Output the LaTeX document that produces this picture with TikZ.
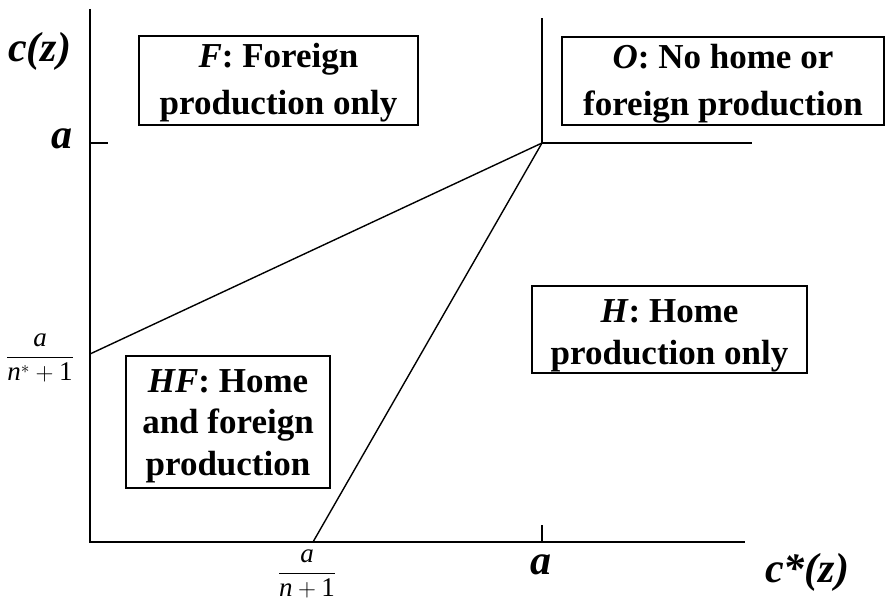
\documentclass[tikz,border=0pt]{standalone}
\usepackage{fontspec}
\setmainfont{Liberation Serif}
\begin{document}
\begin{tikzpicture}[x=1pt,y=-1pt,
  axisline/.style={line width=2pt},
  boundary/.style={line width=1.4pt},
  regionbox/.style={draw,line width=1.4pt,inner sep=0pt},
  boxtext/.style={align=center,inner sep=0pt,font=\fontsize{35}{42}\selectfont\bfseries},
  axislabel/.style={anchor=base,inner sep=0pt,font=\fontsize{42}{48}\selectfont\bfseries\itshape},
  fraclabel/.style={inner sep=0pt,font=\fontsize{27}{30}\selectfont}
]
\useasboundingbox (0,0) rectangle (886,604);
% key points
\coordinate (orig) at (90,542);
\coordinate (ytop) at (90,9);
\coordinate (xend) at (745,542);
\coordinate (aa) at (542,143);
\coordinate (vtop) at (542,18);
\coordinate (hend) at (752,143);
\coordinate (ystar) at (90,354);
\coordinate (xn) at (313,542);
\coordinate (yta) at (90,143);
\coordinate (ytb) at (108,143);
\coordinate (xta) at (542,542);
\coordinate (xtb) at (542,525);
% axes
\draw[axisline] (ytop) -- (orig) -- (xend);
\draw[boundary] (yta) -- (ytb);
\draw[boundary] (xta) -- (xtb);
% boundaries
\draw[boundary] (aa) -- (vtop);
\draw[boundary] (aa) -- (hend);
\draw[boundary] (ystar) -- (aa);
\draw[boundary] (xn) -- (aa);
% axis labels
\node[axislabel,anchor=base west] (cz) at (8,62) {c(z)};
\node[axislabel] (ya) at (62,149) {a};
\node[axislabel] (xa) at (541,574) {a};
\node[axislabel,anchor=base west] (csz) at (765,582) {c*(z)};
% fraction labels
\node[fraclabel] (fy) at (40,358) {$\displaystyle\frac{\mbox{\itshape a}}{\mbox{\itshape n}^{*}+\mbox{1}}$};
\node[fraclabel] (fx) at (307,574) {$\displaystyle\frac{\mbox{\itshape a}}{\mbox{\itshape n}+\mbox{1}}$};
% region boxes
\node[regionbox,minimum width=279pt,minimum height=89pt] (bF) at (278.5,80.5) {};
\node[boxtext,font=\fontsize{35}{47}\selectfont\bfseries] (tF) at ([yshift=-2.5pt]bF.center) {\textit{F}: Foreign\\ production only};
\node[regionbox,minimum width=322pt,minimum height=88pt] (bO) at (723,81) {};
\node[boxtext,font=\fontsize{35}{47}\selectfont\bfseries] (tO) at ([yshift=-2.5pt]bO.center) {\textit{O}: No home or\\ foreign production};
\node[regionbox,minimum width=275pt,minimum height=87pt] (bH) at (669.5,329.5) {};
\node[boxtext] (tH) at ([yshift=-6pt]bH.center) {\textit{H}: Home\\ production only};
\node[regionbox,minimum width=204pt,minimum height=132pt] (bHF) at (228,422) {};
\node[boxtext,font=\fontsize{35}{41.5}\selectfont\bfseries] (tHF) at ([yshift=-4pt]bHF.center) {\textit{HF}: Home\\ and foreign\\ production};
\end{tikzpicture}
\end{document}
